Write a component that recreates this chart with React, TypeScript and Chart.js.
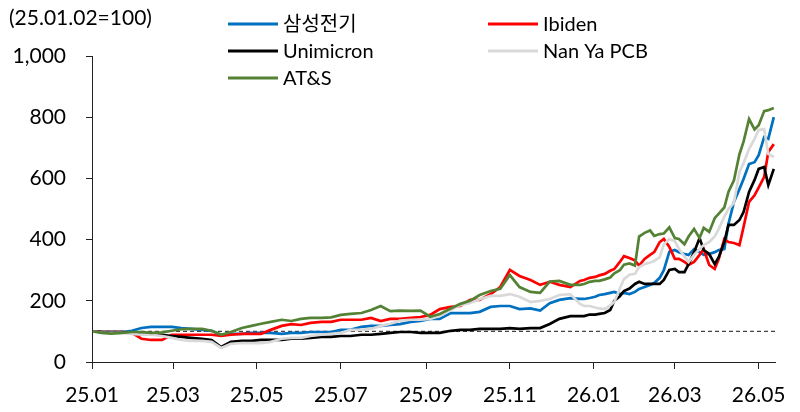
import React, { useEffect, useRef } from "react";
import { Chart, registerables } from "chart.js";

Chart.register(...registerables);

const FONT = "Lato, 'Noto Sans CJK KR', 'Noto Sans', sans-serif";

// ---- data ----
const baseNote = "(25.01.02=100)";
const baseIndex = 100;
const seriesNames = ["삼성전기", "Ibiden", "Unimicron", "Nan Ya PCB", "AT&S"];
const seriesColors = ["#0070C0", "#FF0000", "#000000", "#D9D9D9", "#548235"];

// x tick positions (days since 2025-01-01) and their labels
const tickDays = [0, 59, 120, 181, 243, 304, 365, 424, 485];
const tickLabels = ["25.01", "25.03", "25.05", "25.07", "25.09", "25.11", "26.01", "26.03", "26.05"];

// sample dates (days since 2025-01-01)
const dayIndex = [
  1, 7, 14, 22, 29, 36, 43, 51, 58, 65, 72, 80, 87, 94, 101, 109, 116, 123, 130, 138,
  145, 152, 159, 167, 174, 181, 188, 196, 203, 210, 217, 224, 232, 239, 246, 253, 261, 268, 275, 282,
  290, 297, 304, 311, 319, 326, 333, 340, 348, 355,
  358, 362, 366, 369, 373, 377, 380, 384, 387, 391, 395, 398, 402, 406, 409, 413, 416, 420, 424, 427,
  431, 434, 438, 442, 445, 449, 453, 456, 460, 463, 467, 471, 474, 478, 482, 485, 489, 492, 496,
];

const samsung = [
  100, 98, 98, 98, 102, 111, 115, 115, 115, 111, 108, 105, 102, 89, 92, 92, 95, 95, 95, 92,
  95, 95, 98, 98, 98, 105, 105, 115, 118, 118, 121, 124, 131, 134, 141, 141, 160, 160, 160, 164,
  180, 183, 183, 173, 175, 168, 192, 203, 209, 206,
  206, 209, 213, 219, 222, 226, 229, 222, 226, 222, 229, 239, 245, 252, 258, 275, 300, 360, 366, 359,
  353, 350, 369, 359, 350, 353, 359, 366, 369, 451, 523, 565, 598, 647, 653, 676, 735, 729, 800,
];

const ibiden = [
  100, 98, 98, 98, 95, 76, 72, 72, 89, 89, 89, 89, 89, 85, 89, 92, 92, 92, 105, 118,
  124, 121, 128, 131, 131, 138, 138, 138, 144, 134, 141, 141, 144, 147, 154, 173, 180, 183, 203, 203,
  222, 245, 301, 281, 268, 252, 262, 252, 245, 265,
  268, 275, 278, 283, 288, 298, 304, 327, 346, 340, 332, 315, 337, 350, 359, 392, 402, 376, 337, 337,
  327, 317, 327, 350, 369, 317, 304, 337, 402, 392, 389, 382, 441, 523, 545, 570, 605, 686, 712,
];

const unimicron = [
  100, 98, 98, 98, 95, 89, 89, 89, 85, 82, 79, 76, 72, 49, 66, 69, 69, 72, 72, 72,
  76, 76, 79, 82, 82, 85, 85, 89, 89, 92, 95, 98, 98, 95, 95, 95, 102, 105, 105, 108,
  108, 108, 111, 108, 111, 111, 124, 141, 150, 150,
  150, 155, 155, 157, 160, 170, 200, 215, 232, 240, 255, 262, 255, 255, 255, 255, 268, 301, 304, 294,
  294, 320, 359, 405, 366, 353, 320, 343, 392, 448, 448, 464, 490, 556, 595, 631, 637, 578, 631,
];

const nanYa = [
  100, 95, 95, 95, 92, 89, 89, 85, 79, 72, 69, 69, 66, 46, 59, 62, 62, 62, 66, 76,
  79, 79, 85, 89, 92, 95, 105, 105, 108, 118, 125, 135, 138, 138, 141, 150, 170, 186, 193, 205,
  216, 216, 222, 213, 196, 200, 206, 219, 222, 190,
  183, 183, 178, 175, 173, 185, 196, 240, 271, 285, 288, 310, 320, 325, 330, 343, 385, 402, 395, 369,
  345, 327, 350, 369, 382, 392, 410, 435, 475, 500, 520, 621, 650, 696, 729, 758, 761, 680, 670,
];

const ats = [
  100, 95, 93, 95, 98, 98, 95, 97, 102, 107, 108, 108, 102, 89, 98, 111, 118, 125, 131, 138,
  134, 141, 144, 144, 146, 154, 157, 160, 170, 183, 166, 168, 167, 168, 148, 157, 175, 190, 200, 219,
  232, 239, 284, 245, 229, 226, 263, 265, 252, 252,
  255, 262, 265, 265, 270, 276, 290, 300, 318, 322, 315, 410, 422, 430, 412, 418, 420, 440, 405, 402,
  385, 410, 435, 405, 438, 425, 470, 485, 505, 556, 594, 679, 720, 794, 760, 774, 820, 823, 830,
];

const seriesValues = [samsung, ibiden, unimicron, nanYa, ats];

// ---- layout constants ----
const X_MAX = 497;
const legendCols = [228, 488];
const legendRows = [24, 51, 78];

const overlayPlugin = {
  id: "overlayText",
  afterDraw(chart: any) {
    const ctx = chart.ctx as CanvasRenderingContext2D;
    ctx.save();
    ctx.fillStyle = "#000";
    ctx.textAlign = "left";
    ctx.textBaseline = "middle";
    ctx.font = `21px ${FONT}`;
    ctx.fillText(baseNote, 9, 18);
    ctx.font = `20px ${FONT}`;
    seriesNames.forEach((name, i) => {
      const x = legendCols[i % 2];
      const y = legendRows[Math.floor(i / 2)];
      ctx.strokeStyle = seriesColors[i];
      ctx.lineWidth = 3;
      ctx.beginPath();
      ctx.moveTo(x, y);
      ctx.lineTo(x + 50, y);
      ctx.stroke();
      ctx.fillStyle = "#000";
      ctx.fillText(name, x + 55, y + 1);
    });
    ctx.restore();
  },
};

export default function App() {
  const ref = useRef<HTMLCanvasElement>(null);

  useEffect(() => {
    if (!ref.current) return;
    Chart.defaults.font.family = FONT;
    const datasets: any[] = seriesValues.map((vals, i) => ({
      label: seriesNames[i],
      data: dayIndex.map((d, j) => ({ x: d, y: vals[j] })),
      borderColor: seriesColors[i],
      backgroundColor: seriesColors[i],
      borderWidth: 2.7,
      pointRadius: 0,
      tension: 0,
      order: 5 - i,
    }));
    datasets.push({
      label: "base",
      data: [
        { x: 0, y: baseIndex },
        { x: X_MAX, y: baseIndex },
      ],
      borderColor: "#444",
      borderWidth: 1.1,
      borderDash: [4, 3],
      pointRadius: 0,
      order: 10,
    });

    const chart = new Chart(ref.current, {
      type: "line",
      data: { datasets },
      options: {
        animation: false,
        responsive: false,
        layout: { padding: { left: 0, right: 20, top: 56, bottom: 10 } },
        plugins: {
          legend: { display: false },
          tooltip: { enabled: false },
          title: { display: false },
        },
        scales: {
          x: {
            type: "linear",
            min: 0,
            max: X_MAX,
            afterBuildTicks: (scale: any) => {
              scale.ticks = tickDays.map((v) => ({ value: v }));
            },
            afterFit: (scale: any) => {
              scale.height = 40;
            },
            grid: {
              display: true,
              drawOnChartArea: false,
              drawTicks: true,
              tickLength: 7,
              color: "#222",
            },
            border: { display: true, color: "#222", width: 1 },
            ticks: {
              autoSkip: false,
              maxRotation: 0,
              padding: 14,
              color: "#000",
              font: { size: 21, family: FONT },
              callback: (_v: any, i: number) => tickLabels[i],
            },
          },
          y: {
            min: 0,
            max: 1000,
            afterFit: (scale: any) => {
              scale.width = 92;
            },
            grid: {
              display: true,
              drawOnChartArea: false,
              drawTicks: true,
              tickLength: 6,
              color: "#222",
            },
            border: { display: true, color: "#222", width: 1 },
            ticks: {
              stepSize: 200,
              padding: 20,
              color: "#000",
              font: { size: 21, family: FONT },
              callback: (v: any) => Number(v).toLocaleString("en-US"),
            },
          },
        },
      },
      plugins: [overlayPlugin],
    });
    return () => chart.destroy();
  }, []);

  return (
    <div style={{ position: "absolute", left: 0, top: 0, width: 800, height: 412 }}>
      <canvas ref={ref} width={800} height={412} style={{ display: "block" }} />
    </div>
  );
}
